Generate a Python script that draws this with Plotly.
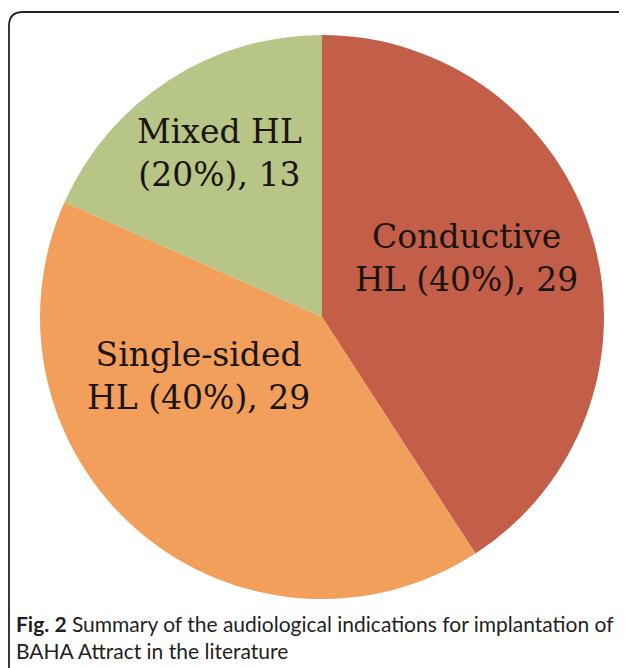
import math
import plotly.graph_objects as go

# Data
categories = ["Conductive HL", "Single-sided HL", "Mixed HL"]
counts = [29, 29, 13]
pct_labels = ["40%", "40%", "20%"]
label_lines = [("Conductive", "HL ({p}), {n}"),
               ("Single-sided", "HL ({p}), {n}"),
               ("Mixed HL", "({p}), {n}")]
colors = ["#C35F48", "#F29F5C", "#B7C686"]

# Layout geometry (figure pixels; page has an 8px body margin)
W, H = 627, 668
cx, cy, r = 314, 309, 282
# label centres, as placed in the reference (figure pixels)
label_pos = [(458, 250), (190, 368), (211, 145)]

fig = go.Figure()
fig.add_trace(go.Pie(
    labels=categories,
    values=counts,
    textinfo="none",
    sort=False,
    direction="clockwise",
    rotation=0,
    marker=dict(colors=colors, line=dict(width=0)),
    showlegend=False,
    hoverinfo="label+value",
    domain=dict(x=[(cx - r) / W, (cx + r) / W], y=[1 - (cy + r) / H, 1 - (cy - r) / H]),
))

for (l1, l2), n, p, (lx, ly) in zip(label_lines, counts, pct_labels, label_pos):
    fig.add_annotation(
        x=lx / W, y=1 - ly / H, xref="paper", yref="paper",
        xanchor="center", yanchor="middle", showarrow=False, align="center",
        text=l1 + "<br>" + l2.format(p=p, n=n),
        font=dict(family="DejaVu Serif", size=33, color="#1b1410"),
    )

# Rounded frame (open at right and bottom, as in the cropped figure)
x0, y0, rad = 1, 4, 14
path = (f"M {x0/W},-0.02 L {x0/W},{1-(y0+rad)/H} "
        f"Q {x0/W},{1-y0/H} {(x0+rad)/W},{1-y0/H} L 1.02,{1-y0/H}")
fig.add_shape(type="path", path=path, xref="paper", yref="paper",
              line=dict(color="#222222", width=1.8))

fig.add_annotation(
    x=6 / W, y=1 - 601 / H, xref="paper", yref="paper", xanchor="left", yanchor="top",
    align="left", showarrow=False,
    text="<b>Fig. 2</b> Summary of the audiological indications for implantation of<br>BAHA Attract in the literature",
    font=dict(family="Lato", size=21, color="#231f20"),
)

fig.update_layout(
    width=W, height=H,
    margin=dict(l=0, r=0, t=0, b=0),
    paper_bgcolor="white", plot_bgcolor="white",
)
fig.write_html("out.html")
